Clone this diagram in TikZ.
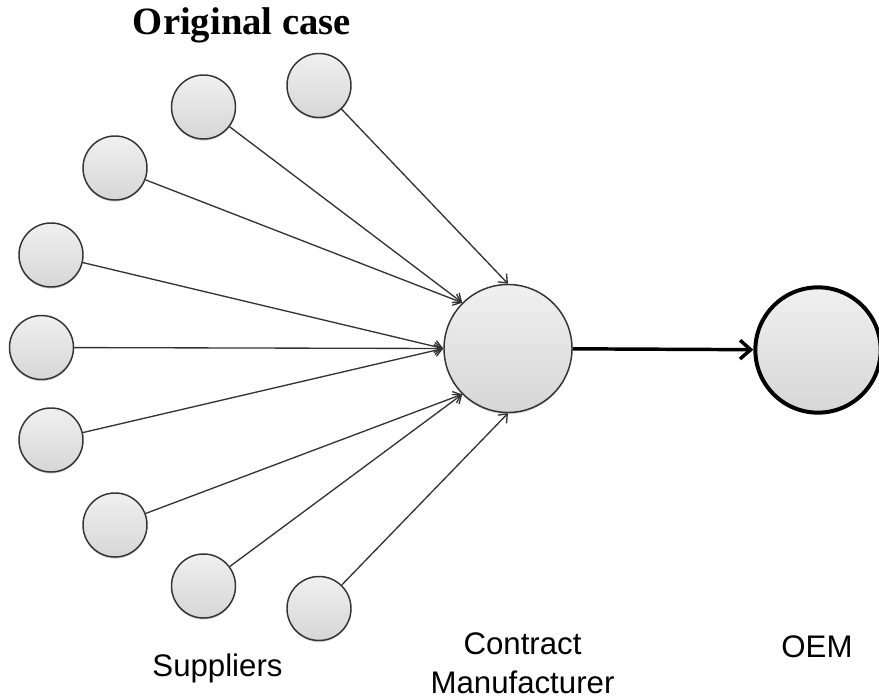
\documentclass[tikz,border=0pt]{standalone}
\usepackage{fontspec}
\setmainfont{Liberation Serif}
\setsansfont{Liberation Sans}
\usetikzlibrary{arrows.meta,shadows}
\begin{document}
\begin{tikzpicture}[x=0.75pt,y=-0.75pt,
  ball/.style={circle,draw=black!80,line width=1.1pt,inner sep=0pt,
    top color=gray!12,bottom color=gray!32,
    drop shadow={shadow xshift=0pt,shadow yshift=-1.2pt,opacity=0.18,fill=black}},
  supplier/.style={ball,minimum size=48pt},
  hub/.style={ball,minimum size=96pt},
  oem/.style={ball,minimum size=94pt,line width=3pt,draw=black},
  feed/.style={draw=black!80,line width=1pt,-{Straight Barb[length=5.5pt,width=9pt]}},
  ship/.style={draw=black,line width=2.6pt,-{Straight Barb[length=8pt,width=14pt]}},
  caption/.style={font=\sffamily\fontsize{23.4}{29.25}\selectfont,align=center,anchor=base,inner sep=1pt}]
\useasboundingbox (0,0) rectangle (879,699);

% title
\node[anchor=base,font=\bfseries\fontsize{29}{34}\selectfont] (title) at (242,35) {Original case};

% suppliers
\node[supplier] (s1) at (319,85.5) {};
\node[supplier] (s2) at (203.5,107) {};
\node[supplier] (s3) at (115,168) {};
\node[supplier] (s4) at (51,255) {};
\node[supplier] (s5) at (41.5,347.5) {};
\node[supplier] (s6) at (51,440) {};
\node[supplier] (s7) at (115,525) {};
\node[supplier] (s8) at (203.5,586) {};
\node[supplier] (s9) at (319,608.5) {};

% contract manufacturer and OEM
\node[hub] (cm) at (508,348.5) {};
\node[oem] (oem) at (818,350) {};

% supply flows
\draw[feed] (s1) -- (cm.north);
\draw[feed] (s2) -- (cm.north west);
\draw[feed] (s3) -- (cm.north west);
\draw[feed] (s4) -- (cm.west);
\draw[feed] (s5) -- (cm.west);
\draw[feed] (s6) -- (cm.west);
\draw[feed] (s7) -- (cm.south west);
\draw[feed] (s8) -- (cm.south west);
\draw[feed] (s9) -- (cm.south);
\draw[ship] (cm) -- (oem);

% captions (base anchor sits on the last line)
\node[caption] (lsup) at (217.5,676) {Suppliers};
\node[caption] (lcm) at (522.5,693) {Contract\\Manufacturer};
\node[caption] (loem) at (817,657) {OEM};
\end{tikzpicture}
\end{document}
